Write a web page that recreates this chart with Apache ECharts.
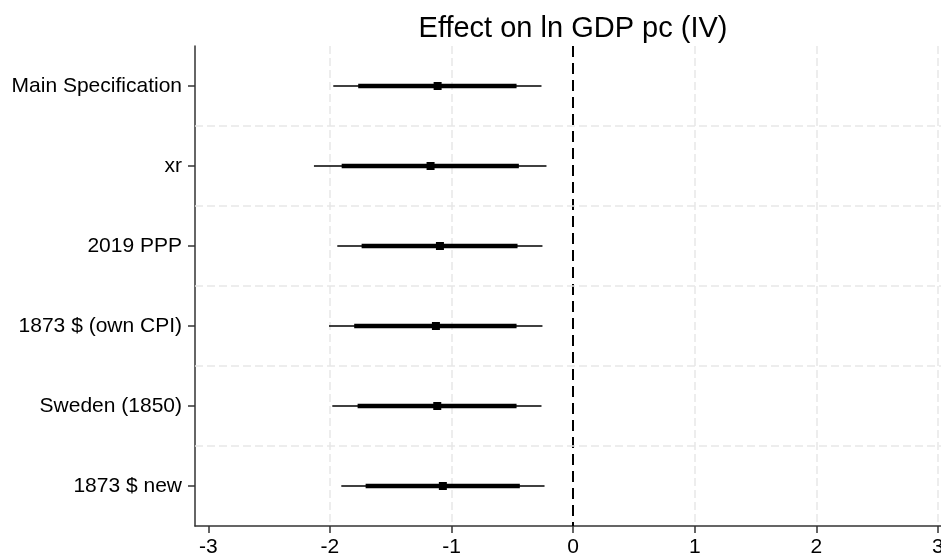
<!DOCTYPE html>
<html>
<head>
<meta charset="utf-8">
<script src="https://cdn.jsdelivr.net/npm/echarts@6/dist/echarts.min.js"></script>
<style>
  html, body { margin: 0; padding: 0; background: #fff; }
  #chart { width: 941px; height: 554px; }
</style>
</head>
<body>
<div id="chart"></div>
<script>
// specifications, top to bottom
const categories = ['Main Specification', 'xr', '2019 PPP', '1873 $ (own CPI)', 'Sweden (1850)', '1873 $ new'];
// point estimates
const estimates = [-1.114, -1.172, -1.095, -1.128, -1.117, -1.071];
// outer (thin) interval
const ciLow95 = [-1.972, -2.131, -1.939, -2.007, -1.980, -1.906];
const ciHigh95 = [-0.260, -0.219, -0.252, -0.252, -0.260, -0.235];
// inner (thick) interval
const ciLow90 = [-1.767, -1.903, -1.739, -1.800, -1.772, -1.706];
const ciHigh90 = [-0.465, -0.446, -0.457, -0.465, -0.465, -0.438];
// x axis ticks
const xTicks = [-3, -2, -1, 0, 1, 2, 3];
const gridTicks = [-2, -1, 1, 2, 3];

const chart = echarts.init(document.getElementById('chart'));

const seriesData = categories.map((c, i) => [i, ciLow95[i], ciHigh95[i], ciLow90[i], ciHigh90[i], estimates[i]]);

function renderItem(params, api) {
  const i = api.value(0);
  const cs = params.coordSys;
  const lo95 = api.coord([api.value(1), i]);
  const hi95 = api.coord([api.value(2), i]);
  const lo90 = api.coord([api.value(3), i]);
  const hi90 = api.coord([api.value(4), i]);
  const est = api.coord([api.value(5), i]);
  const children = [];
  if (i > 0) {
    const prev = api.coord([0, i - 1]);
    const yb = (prev[1] + lo95[1]) / 2;
    children.push({
      type: 'line', z2: 0,
      shape: { x1: cs.x, y1: yb, x2: cs.x + cs.width, y2: yb },
      style: { stroke: '#e8e8e8', lineWidth: 1.5, lineDash: [8, 4] }
    });
  }
  children.push({
    type: 'line', z2: 5,
    shape: { x1: lo95[0], y1: lo95[1], x2: hi95[0], y2: hi95[1] },
    style: { stroke: '#000', lineWidth: 1.6 }
  });
  children.push({
    type: 'line', z2: 6,
    shape: { x1: lo90[0], y1: lo90[1], x2: hi90[0], y2: hi90[1] },
    style: { stroke: '#000', lineWidth: 4.5 }
  });
  children.push({
    type: 'rect', z2: 7,
    shape: { x: est[0] - 4, y: est[1] - 4, width: 8, height: 8 },
    style: { fill: '#000' }
  });
  return { type: 'group', children: children };
}

const options = {
  animation: false,
  title: {
    text: 'Effect on ln GDP pc (IV)',
    left: 568,
    top: 9,
    textAlign: 'center',
    textStyle: { fontFamily: 'Liberation Sans', fontSize: 29, fontWeight: 'normal', color: '#000' }
  },
  grid: { left: 195, right: 0, top: 46, bottom: 28, containLabel: false, outerBoundsMode: 'none' },
  xAxis: {
    type: 'value',
    min: -3.109,
    max: 3.025,
    splitLine: { show: false },
    axisLine: { show: true, onZero: false, lineStyle: { color: '#333', width: 1.5 } },
    axisTick: { show: true, customValues: xTicks, length: 7, lineStyle: { color: '#333', width: 1.5 } },
    axisLabel: {
      customValues: xTicks,
      color: '#000',
      fontFamily: 'Liberation Sans',
      fontSize: 21,
      margin: 11,
      formatter: v => String(v)
    }
  },
  yAxis: {
    type: 'category',
    inverse: true,
    data: categories,
    axisLine: { show: true, onZero: false, lineStyle: { color: '#333', width: 1.5 } },
    axisTick: { show: true, alignWithLabel: true, length: 7, lineStyle: { color: '#333', width: 1.5 } },
    splitLine: { show: false },
    axisLabel: {
      color: '#000',
      fontFamily: 'Liberation Sans',
      fontSize: 21,
      margin: 13
    }
  },
  series: [
    {
      type: 'line',
      data: [],
      z: 1,
      silent: true,
      markLine: {
        z: 1,
        silent: true,
        symbol: 'none',
        label: { show: false },
        data: gridTicks.map(v => ({ xAxis: v, lineStyle: { color: '#e8e8e8', width: 1.5, type: [8, 4] } }))
          .concat([{ xAxis: 0, lineStyle: { color: '#000', width: 2, type: [11, 6] } }])
      }
    },
    {
      type: 'custom',
      z: 3,
      renderItem: renderItem,
      encode: { x: [1, 2, 3, 4, 5], y: 0 },
      data: seriesData
    }
  ]
};

chart.setOption(options);
</script>
</body>
</html>
